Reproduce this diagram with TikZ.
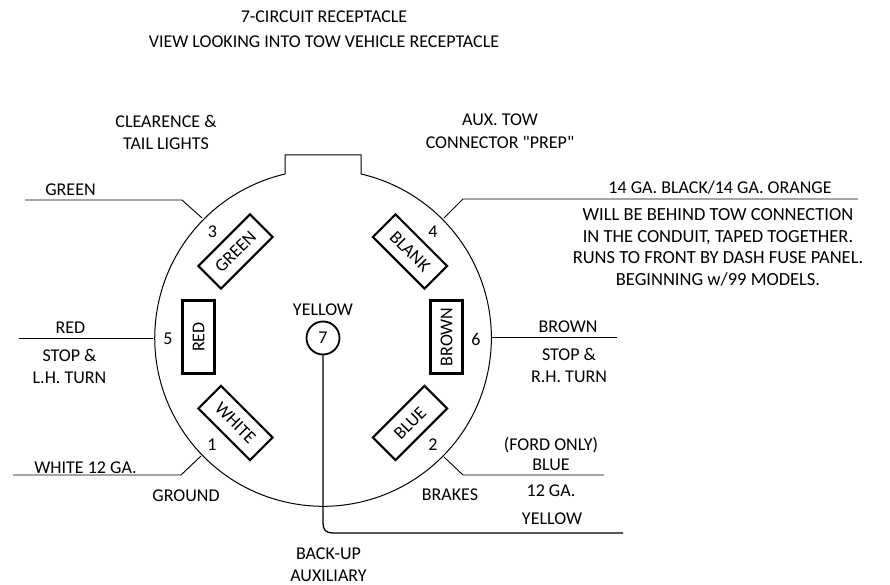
\documentclass[tikz,border=0pt]{standalone}
\usepackage{fontspec}
\setmainfont{Carlito}
\newfontfamily\quotefont{Carlito}
\tikzset{
 x=1pt,y=-1pt,
 lbl/.style={inner sep=0pt,font=\fontsize{18}{21}\selectfont,align=center},
 num/.style={inner sep=0pt,font=\fontsize{18}{21}\selectfont},
 slot/.style={draw,line width=2.1pt,minimum width=73pt,minimum height=32pt,inner sep=0pt,font=\fontsize{18}{21}\selectfont},
 lead/.style={line width=0.9pt},
 body/.style={line width=1pt},
}
\begin{document}
\begin{tikzpicture}
\useasboundingbox (0,0) rectangle (890,585);
% body
\coordinate (c) at (323,338);
\draw[body] (285,174) -- (285,155) -- (361,155) -- (361,174)
  arc[start angle=-76.97,end angle=256.97,radius=168.3];
% slots
\node[slot,rotate=45] (s3) at (235.5,251.5) {GREEN};
\node[slot,rotate=-45] (s4) at (410,251.5) {BLANK};
\node[slot,rotate=90] (s5) at (198.5,337) {RED};
\node[slot,rotate=90] (s6) at (446.5,337) {BROWN};
\node[slot,rotate=-45] (s1) at (235.5,423) {WHITE};
\node[slot,rotate=45] (s2) at (410,423) {BLUE};
\node[draw,circle,line width=1.8pt,minimum size=33pt,inner sep=0pt,font=\fontsize{18}{21}\selectfont] (p7) at (323,338) {7};
% numbers
\node[num] (n3) at (212.5,232) {3};
\node[num] (n4) at (433,232) {4};
\node[num] (n5) at (168,339) {5};
\node[num] (n6) at (476,339) {6};
\node[num] (n1) at (212,445) {1};
\node[num] (n2) at (433,445) {2};
% lead ends
\coordinate (g1) at (25,200); \coordinate (g2) at (182,200); \coordinate (g3) at (202,218);
\coordinate (b1) at (858,199); \coordinate (b2) at (463,199); \coordinate (b3) at (444,218);
\coordinate (r1) at (19,338); \coordinate (r2) at (153,338);
\coordinate (w1) at (13,475); \coordinate (w2) at (181,475); \coordinate (w3) at (201,456);
\coordinate (bl1) at (604,475); \coordinate (bl2) at (463,475); \coordinate (bl3) at (444,457);
\coordinate (br1) at (617,337); \coordinate (br2) at (492,337);
\coordinate (y1) at (623,533);
\draw[lead] (g1) -- (g2) -- (g3);
\draw[lead] (b1) -- (b2) -- (b3);
\draw[lead] (r1) -- (r2);
\draw[lead] (br1) -- (br2);
\draw[lead] (w1) -- (w2) -- (w3);
\draw[lead] (bl1) -- (bl2) -- (bl3);
\draw[line width=1.3pt] (p7.south) -- (323,523) .. controls (323,530) and (326,533) .. (333,533) -- (y1);
% labels
\node[lbl] (t1) at (324,29) {7-CIRCUIT RECEPTACLE\\[4pt]VIEW LOOKING INTO TOW VEHICLE RECEPTACLE};
\node[lbl] (t2) at (166,132.5) {CLEARENCE \&\\[1pt]TAIL LIGHTS};
\node[lbl] (t3) at (500,131) {AUX. TOW\\[2pt]CONNECTOR {\quotefont"}PREP{\quotefont"}};
\node[lbl] (t4) at (70.5,190) {GREEN};
\node[lbl] (t5) at (720,188) {14 GA. BLACK/14 GA. ORANGE};
\node[lbl,font=\fontsize{18.5}{21}\selectfont] (t6) at (718,247.5) {WILL BE BEHIND TOW CONNECTION\\[0.7pt]IN THE CONDUIT, TAPED TOGETHER.\\[0.7pt]RUNS TO FRONT BY DASH FUSE PANEL.\\[0.7pt]BEGINNING w/99 MODELS.};
\node[lbl] (t7) at (323,310) {YELLOW};
\node[lbl] (t8) at (70.5,328) {RED};
\node[lbl] (t9) at (69.5,366.5) {STOP \&\\[1pt]L.H. TURN};
\node[lbl] (t10) at (568,327) {BROWN};
\node[lbl] (t11) at (569,365.5) {STOP \&\\[1pt]R.H. TURN};
\node[lbl] (t12) at (85.5,468) {WHITE 12 GA.};
\node[lbl] (t13) at (186,496) {GROUND};
\node[lbl] (t14) at (450,495) {BRAKES};
\node[lbl] (t15) at (551,454) {(FORD ONLY)\\[-1pt]BLUE};
\node[lbl] (t16) at (551,491) {12 GA.};
\node[lbl] (t17) at (552,519) {YELLOW};
\node[lbl] (t18) at (328.5,565) {BACK-UP\\[1pt]AUXILIARY};
\end{tikzpicture}
\end{document}
